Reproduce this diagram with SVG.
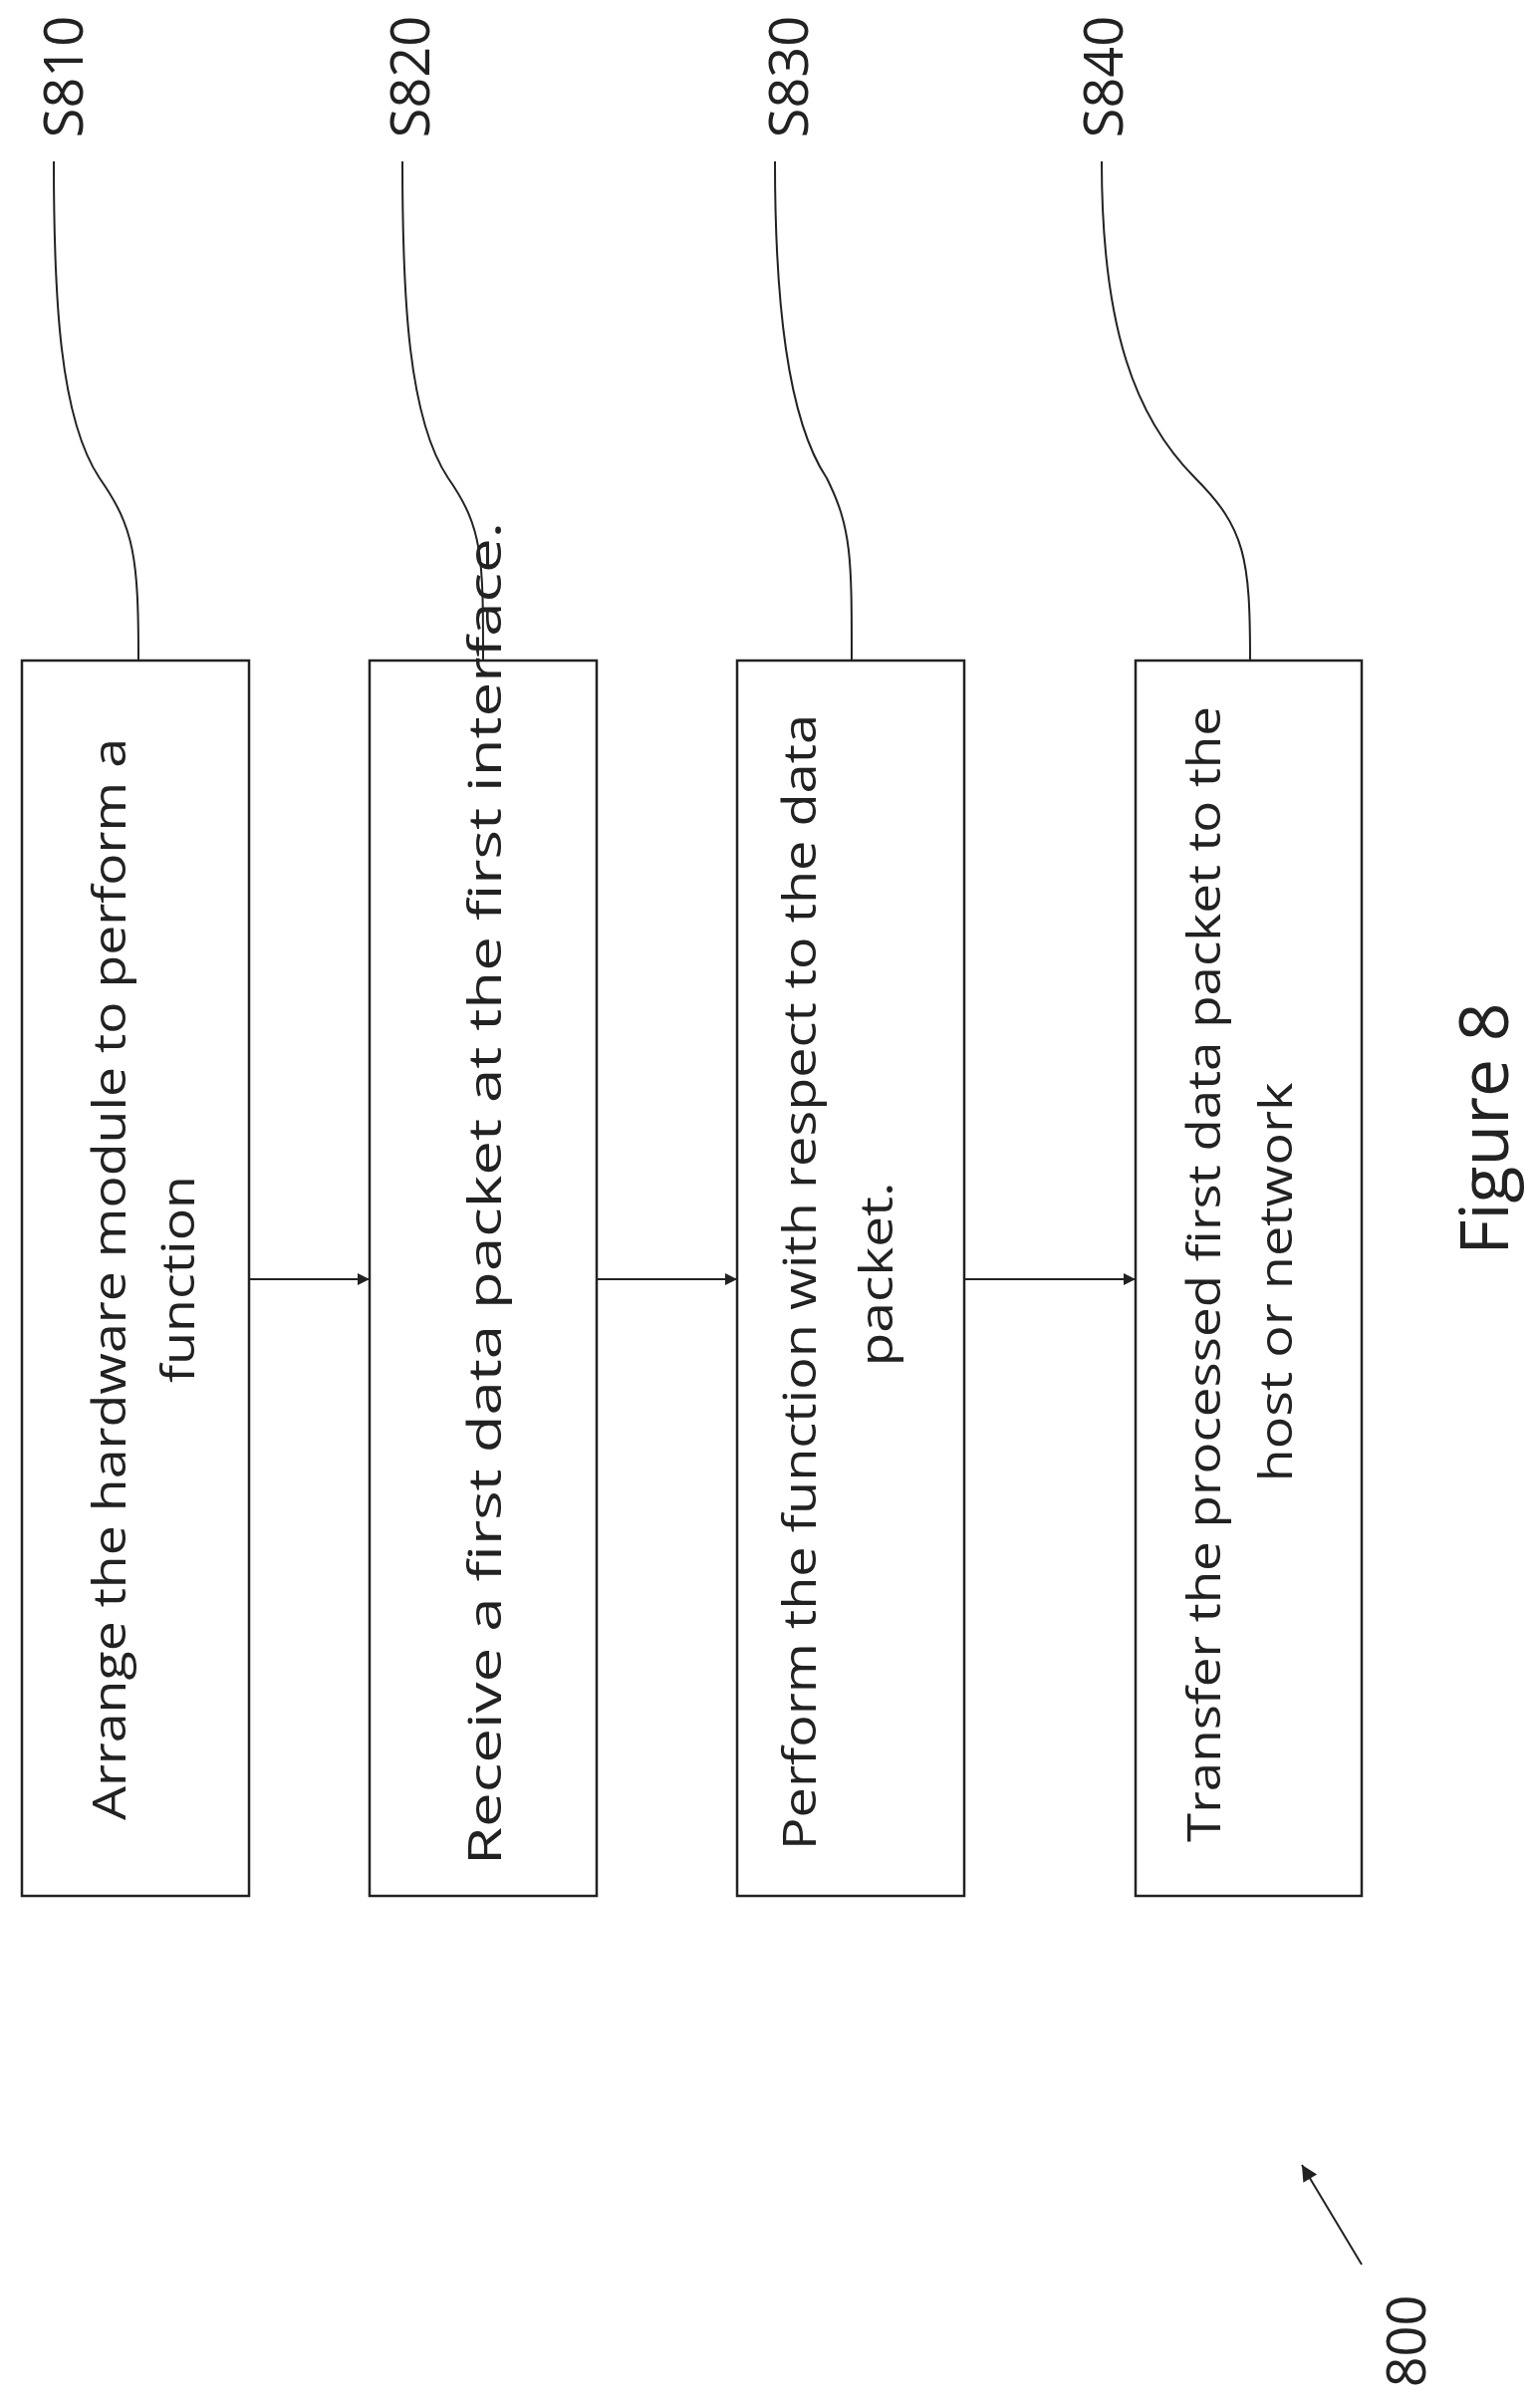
<svg xmlns="http://www.w3.org/2000/svg" width="1541" height="2417" viewBox="0 0 1541 2417">
<style>
.box{fill:#fff;stroke:#222;stroke-width:2.5}
.t{font-family:"Open Sans","Liberation Sans",sans-serif;font-size:46px;fill:#222;text-anchor:middle;dominant-baseline:central}
.lab{font-family:"Open Sans","Liberation Sans",sans-serif;font-size:54px;fill:#222;text-anchor:middle;dominant-baseline:central}
.c{fill:none;stroke:#222;stroke-width:2}
</style>
<defs><marker id="a" viewBox="0 0 10 10" refX="10" refY="5" markerWidth="14" markerHeight="12" orient="auto" markerUnits="userSpaceOnUse"><path d="M0,0L10,5L0,10z" fill="#222"/></marker>
<marker id="b" viewBox="0 0 10 10" refX="10" refY="5" markerWidth="18" markerHeight="16" orient="auto" markerUnits="userSpaceOnUse"><path d="M0,0L10,5L0,10z" fill="#222"/></marker></defs>
<g id="S810"><rect class="box" x="22" y="663" width="228" height="1240"/>
<text class="t" transform="translate(108,1284) rotate(-90)" textLength="1086" lengthAdjust="spacingAndGlyphs">Arrange the hardware module to perform a</text>
<text class="t" transform="translate(177,1284) rotate(-90)" textLength="208" lengthAdjust="spacingAndGlyphs">function</text></g>
<g id="S820"><rect class="box" x="371" y="663" width="228" height="1240"/>
<text class="t" transform="translate(485,1198) rotate(-90)" textLength="1348" lengthAdjust="spacingAndGlyphs">Receive a first data packet at the first interface.</text></g>
<g id="S830"><rect class="box" x="740" y="663" width="228" height="1240"/>
<text class="t" transform="translate(801,1287) rotate(-90)" textLength="1140" lengthAdjust="spacingAndGlyphs">Perform the function with respect to the data</text>
<text class="t" transform="translate(878,1279) rotate(-90)" textLength="185" lengthAdjust="spacingAndGlyphs">packet.</text></g>
<g id="S840"><rect class="box" x="1140" y="663" width="227" height="1240"/>
<text class="t" transform="translate(1207,1279) rotate(-90)" textLength="1140" lengthAdjust="spacingAndGlyphs">Transfer the processed first data packet to the</text>
<text class="t" transform="translate(1279,1287) rotate(-90)" textLength="401" lengthAdjust="spacingAndGlyphs">host or network</text></g>
<g id="labels">
<text class="lab" transform="translate(62,77) rotate(-90)">S810</text>
<text class="lab" transform="translate(410,77) rotate(-90)">S820</text>
<text class="lab" transform="translate(790,77) rotate(-90)">S830</text>
<text class="lab" transform="translate(1106,77) rotate(-90)">S840</text>
<text class="lab" style="font-size:68px" transform="translate(1487,1133) rotate(-90)">Figure 8</text>
<text class="lab" transform="translate(1410,2350) rotate(-90)">800</text>
</g>
<g id="connectors">
<line class="c" x1="250" y1="1284" x2="371" y2="1284" marker-end="url(#a)"/>
<line class="c" x1="599" y1="1284" x2="740" y2="1284" marker-end="url(#a)"/>
<line class="c" x1="968" y1="1284" x2="1140" y2="1284" marker-end="url(#a)"/>
<path class="c" d="M54,162 C54,300 60,420 100,480 C135,530 139,560 139,663"/>
<path class="c" d="M404,162 C404,300 410,420 450,480 C485,530 485,560 485,663"/>
<path class="c" d="M778,162 C778,300 790,420 830,480 C855,530 855,560 855,663"/>
<path class="c" d="M1106,162 C1106,330 1140,420 1200,480 C1250,530 1255,560 1255,663"/>
<line class="c" x1="1367" y1="2273" x2="1307" y2="2173" marker-end="url(#b)"/>
</g>
</svg>
